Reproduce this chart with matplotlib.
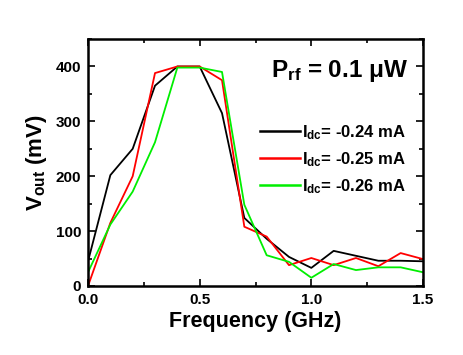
import numpy as np
import matplotlib
matplotlib.use("Agg")
import matplotlib.pyplot as plt
from matplotlib.ticker import MultipleLocator

plt.rcParams['font.family'] = ['Liberation Sans', 'DejaVu Sans']
plt.rcParams['font.weight'] = 'bold'
plt.rcParams['mathtext.fontset'] = 'custom'
plt.rcParams['mathtext.rm'] = 'Liberation Sans:bold'
plt.rcParams['mathtext.it'] = 'Liberation Sans:bold'
plt.rcParams['mathtext.bf'] = 'Liberation Sans:bold'
plt.rcParams['mathtext.default'] = 'rm'

# Data
freq = [0.0, 0.1, 0.2, 0.3, 0.4, 0.5, 0.6, 0.7, 0.8, 0.9, 1.0, 1.1, 1.2, 1.3, 1.4, 1.5]
v_024 = [45, 202, 250, 365, 400, 400, 315, 124, 86, 53, 33, 64, 55, 46, 46, 45]
v_025 = [0, 115, 200, 388, 400, 400, 375, 108, 90, 38, 51, 38, 51, 36, 60, 49]
v_026 = [25, 112, 172, 262, 398, 398, 390, 148, 56, 44, 15, 40, 29, 34, 34, 25]
labels = ['$I_{dc}$= -0.24 mA', '$I_{dc}$= -0.25 mA', '$I_{dc}$= -0.26 mA']

fig = plt.figure(figsize=(4.64, 3.55), dpi=100)
ax = fig.add_axes([0.1897, 0.1944, 0.7219, 0.6956])

ax.plot(freq, v_024, color='black', lw=1.3, label=labels[0])
ax.plot(freq, v_025, color='#ff0000', lw=1.3, label=labels[1])
ax.plot(freq, v_026, color='#00ee00', lw=1.3, label=labels[2])

ax.set_xlim(0, 1.5)
ax.set_ylim(0, 450)
ax.set_xticks([0, 0.5, 1.0, 1.5])
ax.set_xticklabels(['0.0', '0.5', '1.0', '1.5'])
ax.xaxis.set_minor_locator(MultipleLocator(0.25))
ax.yaxis.set_major_locator(MultipleLocator(100))
ax.yaxis.set_minor_locator(MultipleLocator(50))
ax.tick_params(which='both', direction='in', top=True, right=True, width=1.2)
ax.tick_params(which='major', length=5, labelsize=11)
ax.tick_params(axis='y', pad=5)
ax.tick_params(axis='x', pad=5)
ax.tick_params(which='minor', length=3)
for s in ax.spines.values():
    s.set_linewidth(1.8)

ax.set_xlabel('Frequency (GHz)', fontsize=15.5, fontweight='bold', labelpad=3)
ax.set_ylabel('$V_{out}$ (mV)', fontsize=16, fontweight='bold', labelpad=5)

ax.text(0.955, 0.87, '$P_{rf}$ = 0.1 \u03bcW', transform=ax.transAxes,
        ha='right', va='center', fontsize=17.5, fontweight='bold')

leg = ax.legend(loc='upper left', bbox_to_anchor=(0.513, 0.66), frameon=False,
                borderaxespad=0, borderpad=0,
                fontsize=12, handlelength=2.4, handletextpad=0.15, labelspacing=0.5)
for h in leg.get_lines():
    h.set_linewidth(1.8)

fig.savefig('out.png', dpi=100)
